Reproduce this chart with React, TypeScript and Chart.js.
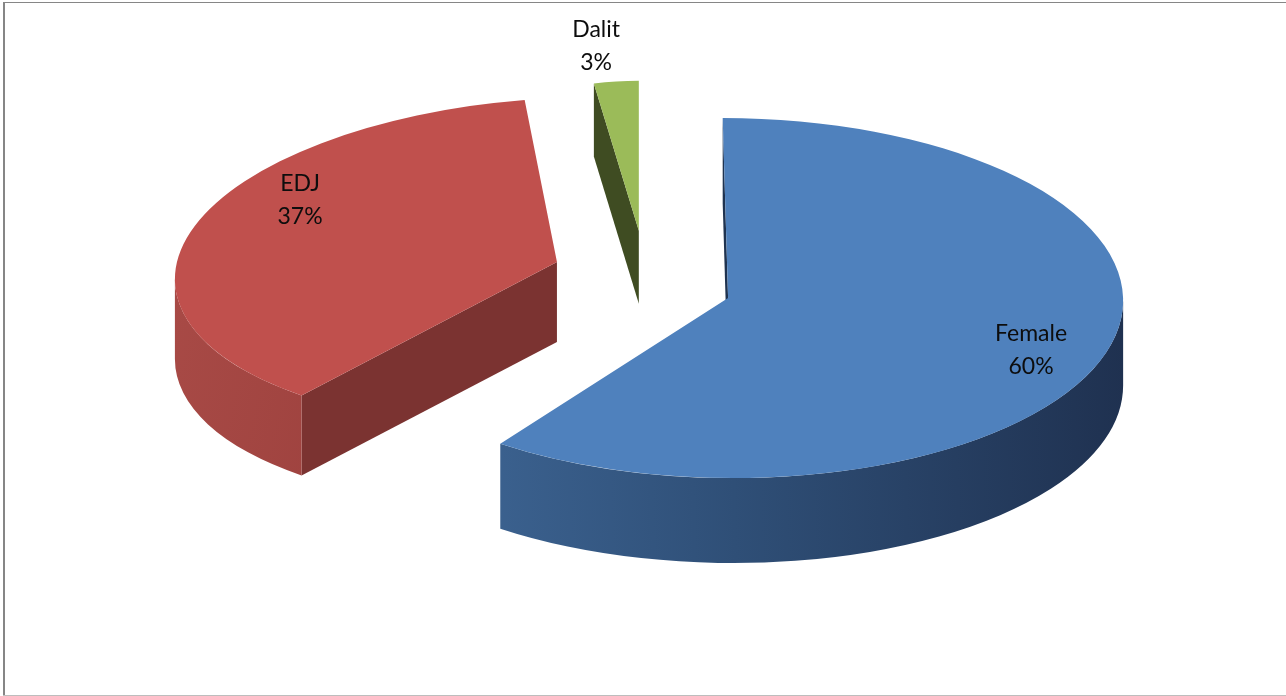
import React, { useEffect, useRef } from "react";
import { Chart, registerables } from "chart.js";

Chart.register(...registerables);

// ---- data ----
const categories = ["Female", "EDJ", "Dalit"];
const values = [60, 37, 3];
const percentLabels = ["60%", "37%", "3%"];

// ---- styles (3D look, per slice to fake perspective) ----
const topColors = ["#4f81bd", "#c0504d", "#9bbb59"];
const wallStops = [
  ["#426c9d", "#2f4f77", "#1f3150"],
  ["#a84a46", "#973c39", "#7a302e"],
  ["#4a5a28", "#3f4d22", "#3a4720"],
];
const cutColors = ["#1f3350", "#7b3331", "#3f4c22"];
const explodeX = [0.2265, 0.232, 0.185];
const explodeY = [0.27, 0.584, 0.35];
const radiusX = [395, 380, 240];
const radiusY = [180, 165, 150];
const shear = [0.03, -0.24, 0];
const depth = [85, 80, 73];
const labelPos = [
  [0.767, 0.289],
  [-0.676, -0.376],
  [-0.178, -1.231],
];

const CENTER_X = 643;
const CENTER_Y = 283;
const LINE_H = 33;

const pie3d = {
  id: "pie3d",
  beforeDatasetsDraw(chart: any) {
    const ctx: CanvasRenderingContext2D = chart.ctx;
    const meta = chart.getDatasetMeta(0);
    const items = meta.data.map((el: any, i: number) => {
      const p = el.getProps(["x", "y", "startAngle", "endAngle", "outerRadius"], true);
      const mid = (p.startAngle + p.endAngle) / 2;
      const cx = CENTER_X + explodeX[i] * Math.cos(mid) * radiusX[i];
      const cy = CENTER_Y + explodeY[i] * Math.sin(mid) * radiusY[i];
      return { el, i, p, cx, cy };
    });
    items.sort((a: any, b: any) => a.cy - b.cy);

    for (const it of items) {
      const { el, i, p, cx, cy } = it;
      const RX = radiusX[i];
      const RY = radiusY[i];
      const s = shear[i];
      const D = depth[i];
      const a = p.startAngle;
      const b = p.endAngle;
      // extrusion vector in sheared space so that screen shift is (0, D)
      const wx = -s * D;
      const wy = D;

      ctx.save();
      ctx.translate(cx, cy);
      ctx.transform(1, 0, s, 1, 0, 0);

      const face = (t: number) => {
        const x1 = RX * Math.cos(t);
        const y1 = RY * Math.sin(t);
        ctx.beginPath();
        ctx.moveTo(0, 0);
        ctx.lineTo(x1, y1);
        ctx.lineTo(x1 + wx, y1 + wy);
        ctx.lineTo(wx, wy);
        ctx.closePath();
        ctx.fillStyle = cutColors[i];
        ctx.fill();
      };
      const cross = (t: number) => RX * Math.cos(t) * wy - RY * Math.sin(t) * wx;
      if (cross(a) < -1e-6) face(a);
      if (cross(b) > 1e-6) face(b);

      // outer wall: visible where outward normal faces the extrusion
      const A = RY * wx;
      const B = RX * wy;
      const phi = Math.atan2(A, B);
      const g = ctx.createLinearGradient(-RX, 0, RX, 0);
      g.addColorStop(0, wallStops[i][0]);
      g.addColorStop(0.5, wallStops[i][1]);
      g.addColorStop(1, wallStops[i][2]);
      for (const k of [-1, 0, 1]) {
        const lo = Math.max(a, -phi + k * 2 * Math.PI);
        const hi = Math.min(b, Math.PI - phi + k * 2 * Math.PI);
        if (hi > lo) {
          ctx.beginPath();
          ctx.ellipse(0, 0, RX, RY, 0, lo, hi, false);
          ctx.ellipse(wx, wy, RX, RY, 0, hi, lo, true);
          ctx.closePath();
          ctx.fillStyle = g;
          ctx.fill();
        }
      }

      // top face drawn by the library's own arc element
      ctx.scale(RX / p.outerRadius, RY / p.outerRadius);
      ctx.translate(-p.x, -p.y);
      el.draw(ctx);
      ctx.restore();
    }

    // labels
    ctx.save();
    ctx.fillStyle = "#0d0d0d";
    ctx.font = '23px Lato, "Open Sans", sans-serif';
    ctx.textAlign = "center";
    ctx.textBaseline = "middle";
    for (const it of items) {
      const i = it.i;
      const lx = it.cx + labelPos[i][0] * radiusX[i];
      const ly = it.cy + labelPos[i][1] * radiusY[i];
      ctx.fillText(categories[i], lx, ly - LINE_H / 2);
      ctx.fillText(percentLabels[i], lx, ly + LINE_H / 2);
    }
    ctx.restore();
    return false;
  },
};

export default function App() {
  const ref = useRef<HTMLCanvasElement>(null);
  useEffect(() => {
    document.body.style.margin = "0";
    const chart = new Chart(ref.current!, {
      type: "pie",
      data: {
        labels: categories,
        datasets: [
          {
            data: values,
            backgroundColor: topColors,
            borderWidth: 0,
            offset: 0,
          },
        ],
      },
      options: {
        responsive: false,
        animation: false,
        events: [],
        layout: { padding: 0 },
        plugins: {
          legend: { display: false },
          tooltip: { enabled: false },
        },
      },
      plugins: [pie3d],
    });
    return () => chart.destroy();
  }, []);

  return (
    <div style={{ position: "relative", width: 1286, height: 696, background: "#fff", overflow: "hidden" }}>
      <canvas ref={ref} width={1286} height={696} style={{ display: "block" }} />
      <div style={{ position: "absolute", left: 3, top: 2, width: 1283, height: 1, background: "#868686" }} />
      <div style={{ position: "absolute", left: 3, top: 2, width: 2, height: 694, background: "#868686" }} />
      <div style={{ position: "absolute", left: 3, top: 695, width: 1283, height: 1, background: "#bdbdbd" }} />
    </div>
  );
}
